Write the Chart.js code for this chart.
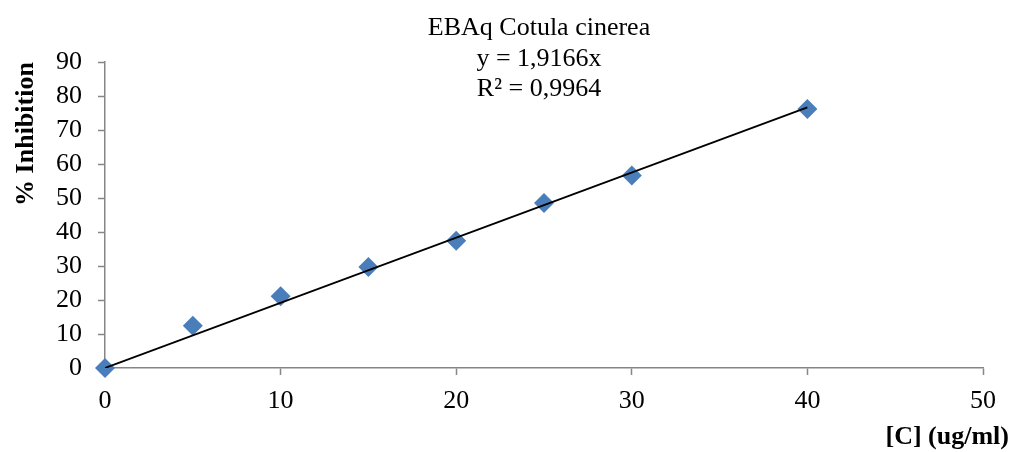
<!DOCTYPE html>
<html>
<head>
<meta charset="utf-8">
<script src="https://cdn.jsdelivr.net/npm/chart.js@4/dist/chart.umd.min.js"></script>
<style>
  body { margin: 0; background: #fff; }
  #wrap { width: 1014px; height: 452px; position: relative; }
</style>
</head>
<body>
<div id="wrap"><canvas id="myChart"></canvas></div>
<script>
"use strict";

// data
const concentrations = [0, 5, 10, 15, 20, 25, 30, 40];
const inhibition = [0, 12.4, 21.1, 29.7, 37.4, 48.5, 56.6, 76.2];
const slope = 1.9166;           // y = 1,9166x
const trendRange = [0, 40];
const titleLines = ["EBAq Cotula cinerea", "y = 1,9166x", "R² = 0,9964"];
const xTitle = "[C] (ug/ml)";
const yTitle = "% Inhibition";

const axisGray = "#868686";
const serif = "'Liberation Serif', 'Times New Roman', serif";

const points = concentrations.map((c, i) => ({ x: c, y: inhibition[i] }));
const trend = trendRange.map(c => ({ x: c, y: slope * c }));

// title + axis titles drawn where Excel put them
const textPlugin = {
    id: "texts",
    afterDraw(chart) {
        const ctx = chart.ctx;
        ctx.save();
        ctx.fillStyle = "#000";
        ctx.font = "26px " + serif;
        ctx.textAlign = "center";
        ctx.textBaseline = "alphabetic";
        titleLines.forEach((t, i) => ctx.fillText(t, 539, 35 + i * 30.5));

        ctx.font = "bold 26px " + serif;
        ctx.textAlign = "right";
        ctx.fillText(xTitle, 1009, 444);

        ctx.translate(33, 134);
        ctx.rotate(-Math.PI / 2);
        ctx.textAlign = "center";
        ctx.fillText(yTitle, 0, 0);
        ctx.restore();
    }
};

const chartDiv = document.getElementById("myChart");

new Chart(chartDiv, {
    type: "scatter",
    data: {
        datasets: [{
            label: "trend",
            type: "line",
            data: trend,
            borderColor: "#000",
            borderWidth: 1.8,
            pointRadius: 0,
            fill: false,
            order: 0
        }, {
            label: "EBAq",
            data: points,
            pointStyle: "rectRot",
            pointRadius: 10,
            pointBackgroundColor: "#4A7EBB",
            pointBorderColor: "#4A7EBB",
            pointBorderWidth: 0,
            clip: false,
            order: 1
        }]
    },
    options: {
        responsive: true,
        maintainAspectRatio: false,
        animation: false,
        layout: { padding: { top: 62, right: 31, left: 0, bottom: 0 } },
        plugins: {
            legend: { display: false },
            tooltip: { enabled: false }
        },
        scales: {
            x: {
                type: "linear",
                min: 0,
                max: 50,
                ticks: { stepSize: 10, autoSkip: false, color: "#000", padding: 11, font: { family: serif, size: 26 } },
                grid: { drawOnChartArea: false, drawTicks: true, tickLength: 7, tickColor: axisGray, tickWidth: 1.5 },
                border: { color: axisGray, width: 1.5 },
                afterFit: s => { s.height = 84; }
            },
            y: {
                min: 0,
                max: 90,
                ticks: { stepSize: 10, autoSkip: false, color: "#000", padding: 16, font: { family: serif, size: 26 } },
                grid: { drawOnChartArea: false, drawTicks: true, tickLength: 7, tickColor: axisGray, tickWidth: 1.5 },
                border: { color: axisGray, width: 1.5 },
                afterFit: s => { s.width = 105; }
            }
        }
    },
    plugins: [textPlugin]
});
</script>
</body>
</html>
